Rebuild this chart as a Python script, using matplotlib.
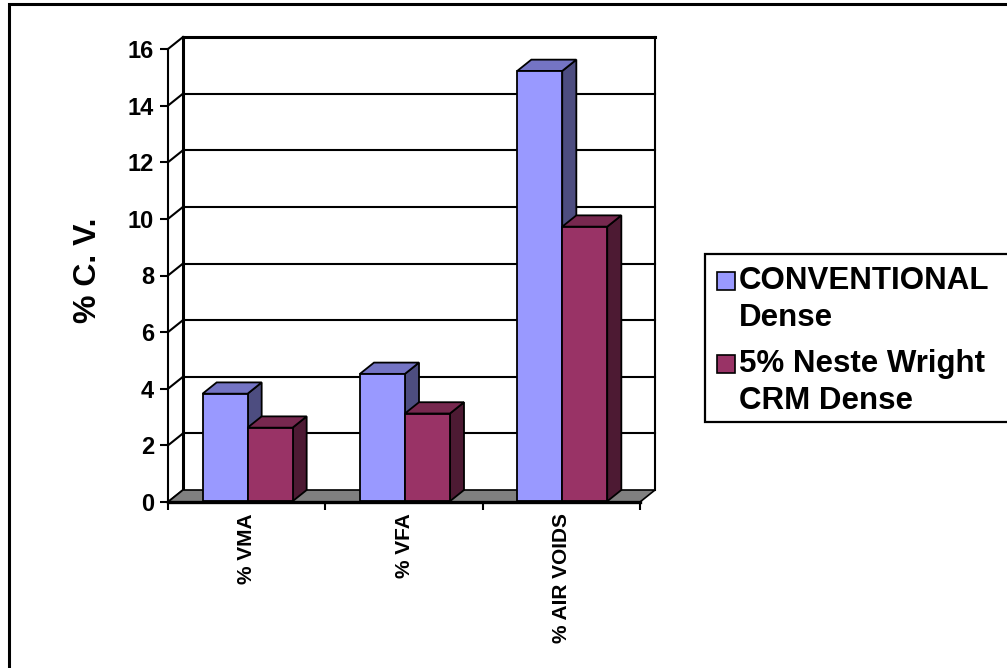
import matplotlib
matplotlib.use("Agg")
import matplotlib.pyplot as plt
from matplotlib.patches import Polygon, Rectangle

plt.rcParams['font.family'] = ['Liberation Sans', 'DejaVu Sans']
plt.rcParams['font.weight'] = 'bold'

# data
categories = ["% VMA", "% VFA", "% AIR VOIDS"]
series_names = ["CONVENTIONAL\nDense", "5% Neste Wright\nCRM Dense"]
conventional = [3.8, 4.5, 15.2]
neste_crm = [2.6, 3.1, 9.7]
yticks = [0, 2, 4, 6, 8, 10, 12, 14, 16]

front_colors = ["#9999FF", "#993366"]
top_colors = ["#7474C4", "#77284F"]
side_colors = ["#4D4D80", "#4D1A33"]

W, H = 1007, 668
fig = plt.figure(figsize=(W / 100, H / 100), dpi=100)


def fx(px):
    return px / W


def fy(py):
    return 1 - py / H


# front plane of the plot box, in pixels
left, right, top, bottom = 168, 640, 49, 502
ax = fig.add_axes([fx(left), fy(bottom), fx(right) - fx(left), fy(top) - fy(bottom)])
ax.set_xlim(0, 3)
ax.set_ylim(0, 16)
ax.set_facecolor("none")

# depth offset of the back wall, in data units
dx = 15 / ((right - left) / 3)
dy = 12 / ((bottom - top) / 16)

# back wall gridlines and left wall diagonals
for v in yticks:
    lw = 2.2 if v == 16 else 1.5
    if v > 0:
        ax.plot([dx, 3 + dx], [v + dy, v + dy], color="black", lw=lw, clip_on=False, zorder=1)
    ax.plot([0, dx], [v, v + dy], color="black", lw=1.5, clip_on=False, zorder=1)
ax.plot([dx, dx], [dy, 16 + dy], color="black", lw=2.2, clip_on=False, zorder=1)
ax.plot([3 + dx, 3 + dx], [dy, 16 + dy], color="black", lw=1.5, clip_on=False, zorder=1)

# floor
ax.add_patch(Polygon([(0, 0), (3, 0), (3 + dx, dy), (dx, dy)], closed=True,
                     facecolor="#808080", edgecolor="black", lw=1.2, clip_on=False, zorder=2))

# 3D columns
bar_w = 0.286
f0, f1 = 0.06, 1.0
for i in range(len(categories)):
    for j, vals in enumerate([conventional, neste_crm]):
        h = vals[i]
        x0 = i + 0.5 - bar_w + j * bar_w
        x1 = x0 + bar_w
        ox, oy = f0 * dx, f0 * dy
        ddx, ddy = (f1 - f0) * dx, (f1 - f0) * dy
        side = [(x1 + ox, oy), (x1 + ox, h + oy), (x1 + ox + ddx, h + oy + ddy), (x1 + ox + ddx, oy + ddy)]
        topf = [(x0 + ox, h + oy), (x1 + ox, h + oy), (x1 + ox + ddx, h + oy + ddy), (x0 + ox + ddx, h + oy + ddy)]
        front = [(x0 + ox, oy), (x1 + ox, oy), (x1 + ox, h + oy), (x0 + ox, h + oy)]
        z = 3 + i * 2 + j
        for pts, c in [(side, side_colors[j]), (topf, top_colors[j]), (front, front_colors[j])]:
            ax.add_patch(Polygon(pts, closed=True, facecolor=c, edgecolor="black",
                                 lw=1.3, joinstyle="miter", clip_on=False, zorder=z))

# axes, ticks and labels
for s in ["top", "right"]:
    ax.spines[s].set_visible(False)
ax.spines["left"].set_linewidth(1.5)
ax.spines["bottom"].set_linewidth(2.4)
ax.spines["bottom"].set_zorder(20)
ax.set_yticks(yticks)
ax.set_yticklabels([str(v) for v in yticks], fontsize=17, fontweight="bold")
ax.tick_params(axis="y", length=6, width=1.5, pad=4)
ax.set_xticks([0, 1, 2, 3])
ax.set_xticklabels([])
ax.tick_params(axis="x", which="major", length=6, width=1.5, direction="out")
ax.set_xticks([0.5, 1.5, 2.5], minor=True)
ax.set_xticklabels(categories, minor=True, rotation=90, fontsize=15, fontweight="bold",
                   va="top", ha="center")
ax.tick_params(axis="x", which="minor", length=0, pad=8)

fig.text(fx(88), fy(270), "% C. V.", rotation=90, ha="center", va="center",
         fontsize=23, fontweight="bold")

# legend
fig.add_artist(Rectangle((fx(705), fy(422)), fx(1100) - fx(705), fy(254) - fy(422),
                         transform=fig.transFigure, facecolor="white", edgecolor="black", lw=1.6))
entry_tops = [281, 364]
for j, name in enumerate(series_names):
    yc = entry_tops[j]
    fig.add_artist(Rectangle((fx(717), fy(yc + 9)), fx(735) - fx(717), fy(yc - 9) - fy(yc + 9),
                             transform=fig.transFigure, facecolor=front_colors[j],
                             edgecolor="black", lw=1.2))
    fig.text(fx(739), fy(yc - 15), name, ha="left", va="top", fontsize=22.5,
             fontweight="bold", linespacing=1.3)

# outer frame
fig.add_artist(Rectangle((fx(9), fy(700)), fx(1100) - fx(9), fy(4) - fy(700),
                         transform=fig.transFigure, facecolor="none", edgecolor="black", lw=2.2))

fig.savefig("out.png", dpi=100)
